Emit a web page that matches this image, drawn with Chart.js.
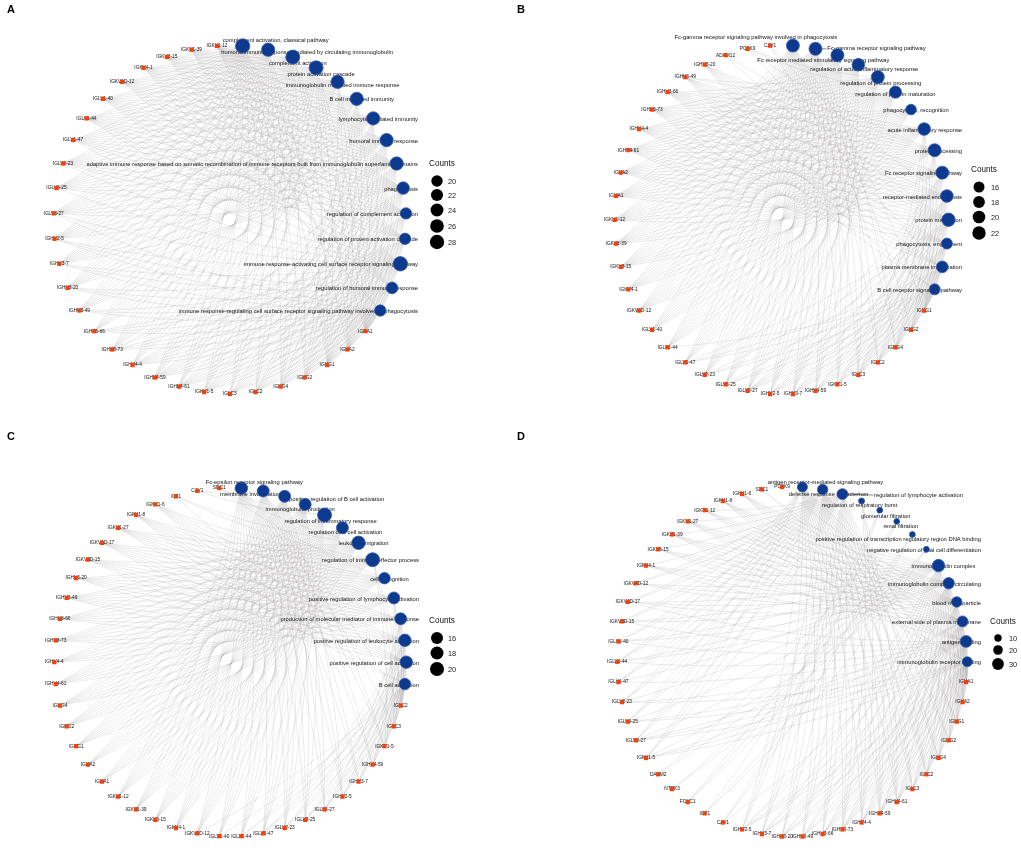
<!DOCTYPE html>
<html>
<head>
<meta charset="utf-8">
<script src="https://cdn.jsdelivr.net/npm/chart.js@4.4.0/dist/chart.umd.min.js"></script>
<style>
html, body { margin: 0; padding: 0; background: #fff; }
#wrap { position: relative; width: 1021px; height: 854px; }
.panel { position: absolute; }
</style>
</head>
<body>
<div id="wrap">
  <div class="panel" style="left:0;top:0"><canvas id="cA" width="510" height="427"></canvas></div>
  <div class="panel" style="left:510px;top:0"><canvas id="cB" width="511" height="427"></canvas></div>
  <div class="panel" style="left:0;top:427px"><canvas id="cC" width="510" height="427"></canvas></div>
  <div class="panel" style="left:510px;top:427px"><canvas id="cD" width="511" height="427"></canvas></div>
</div>
<script>
// ---- data ----
// terms clockwise from the top, genes clockwise after the last term
const termsA = ['complement activation, classical pathway',
  'humoral immune response mediated by circulating immunoglobulin',
  'complement activation', 'protein activation cascade',
  'immunoglobulin mediated immune response', 'B cell mediated immunity',
  'lymphocyte mediated immunity', 'humoral immune response',
  'adaptive immune response based on somatic recombination of immune receptors built from immunoglobulin superfamily domains',
  'phagocytosis', 'regulation of complement activation',
  'regulation of protein activation cascade',
  'immune response-activating cell surface receptor signaling pathway',
  'regulation of humoral immune response',
  'immune response-regulating cell surface receptor signaling pathway involved in phagocytosis'];
const countsA = [28, 25, 27, 27, 25, 25, 25, 25, 25, 23, 20, 20, 28, 21, 20];
const genesA = ['IGHA1', 'IGHA2', 'IGHG1', 'IGHG2', 'IGHG4', 'IGLC2', 'IGLC3', 'IGKV1-5',
  'IGHV4-61', 'IGHV4-59', 'IGHV4-4', 'IGHV3-73', 'IGHV3-66', 'IGHV3-49', 'IGHV3-20',
  'IGHV3-7', 'IGHV2-5', 'IGLV3-27', 'IGLV3-25', 'IGLV2-23', 'IGLV1-47', 'IGLV1-44',
  'IGLV1-40', 'IGKV1D-12', 'IGKV4-1', 'IGKV3-15', 'IGKV1-39', 'IGKV1-12'];
const linksA = {};
const legendA = [20, 22, 24, 26, 28];

const termsB = ['Fc-gamma receptor signaling pathway involved in phagocytosis',
  'Fc-gamma receptor signaling pathway', 'Fc receptor mediated stimulatory signaling pathway',
  'regulation of acute inflammatory response', 'regulation of protein processing',
  'regulation of protein maturation', 'phagocytosis, recognition', 'acute inflammatory response',
  'protein processing', 'Fc receptor signaling pathway', 'receptor-mediated endocytosis',
  'protein maturation', 'phagocytosis, engulfment', 'plasma membrane invagination',
  'B cell receptor signaling pathway'];
const countsB = [21, 21, 21, 20, 21, 19, 15, 20, 21, 21, 20, 22, 16, 18, 16];
const genesB = ['IGHG1', 'IGHG2', 'IGHG4', 'IGLC2', 'IGLC3', 'IGKV1-5', 'IGHV4-59', 'IGHV3-7',
  'IGHV2-5', 'IGLV3-27', 'IGLV3-25', 'IGLV2-23', 'IGLV1-47', 'IGLV1-44', 'IGLV1-40',
  'IGKV1D-12', 'IGKV4-1', 'IGKV3-15', 'IGKV1-39', 'IGKV1-12', 'IGHA1', 'IGHA2', 'IGHV4-61',
  'IGHV4-4', 'IGHV3-73', 'IGHV3-66', 'IGHV3-49', 'IGHV3-20', 'ADAM12', 'PCSK9', 'CAV1'];
const linksB = { ADAM12: [8, 11], PCSK9: [4, 5, 8, 11], CAV1: [10, 13] };
const legendB = [16, 18, 20, 22];

const termsC = ['Fc-epsilon receptor signaling pathway', 'membrane invagination',
  'positive regulation of B cell activation', 'immunoglobulin production',
  'regulation of inflammatory response', 'regulation of B cell activation',
  'leukocyte migration', 'regulation of immune effector process', 'cell recognition',
  'positive regulation of lymphocyte activation',
  'production of molecular mediator of immune response',
  'positive regulation of leukocyte activation', 'positive regulation of cell activation',
  'B cell activation'];
const countsC = [17, 16, 16, 16, 20, 16, 19, 20, 15, 16, 16, 17, 17, 15];
const genesC = ['IGLC2', 'IGLC3', 'IGKV1-5', 'IGHV4-59', 'IGHV3-7', 'IGHV2-5', 'IGLV3-27',
  'IGLV3-25', 'IGLV2-23', 'IGLV1-47', 'IGLV1-44', 'IGLV1-40', 'IGKV1D-12', 'IGKV4-1',
  'IGKV3-15', 'IGKV1-39', 'IGKV1-12', 'IGHA1', 'IGHA2', 'IGHG1', 'IGHG2', 'IGHG4',
  'IGHV4-61', 'IGHV4-4', 'IGHV3-73', 'IGHV3-66', 'IGHV3-49', 'IGHV3-20', 'IGKV3D-15',
  'IGKV1D-17', 'IGKV1-27', 'IGKV1-8', 'IGKV1-6', 'IGF1', 'CAV1', 'SDC1'];
const linksC = { IGF1: [6, 7, 12], CAV1: [1, 4], SDC1: [4, 6, 8] };
const legendC = [16, 18, 20];

const termsD = ['antigen receptor-mediated signaling pathway', 'defense response to bacterium',
  'regulation of lymphocyte activation', 'regulation of respiratory burst',
  'glomerular filtration', 'renal filtration',
  'positive regulation of transcription regulatory region DNA binding',
  'negative regulation of glial cell differentiation', 'immunoglobulin complex',
  'immunoglobulin complex, circulating', 'blood microparticle',
  'external side of plasma membrane', 'antigen binding', 'immunoglobulin receptor binding'];
const countsD = [22, 24, 26, 4, 3, 3, 3, 3, 33, 28, 24, 26, 30, 22];
const genesD = ['IGHA1', 'IGHA2', 'IGHG1', 'IGHG2', 'IGHG4', 'IGLC2', 'IGLC3', 'IGHV4-61',
  'IGHV4-59', 'IGHV4-4', 'IGHV3-73', 'IGHV3-66', 'IGHV3-49', 'IGHV3-20', 'IGHV3-7',
  'IGHV2-5', 'CAV1', 'IGF1', 'FOXC1', 'NTRK3', 'DAAM2', 'IGKV1-5', 'IGLV3-27', 'IGLV3-25',
  'IGLV2-23', 'IGLV1-47', 'IGLV1-44', 'IGLV1-40', 'IGKV3D-15', 'IGKV1D-17', 'IGKV1D-12',
  'IGKV4-1', 'IGKV3-15', 'IGKV1-39', 'IGKV1-27', 'IGKV1-12', 'IGKV1-8', 'IGKV1-6',
  'SDC1', 'PCSK9'];
const linksD = { CAV1: [4, 5, 10], IGF1: [4, 6, 7], FOXC1: [4, 5, 6], NTRK3: [6, 7],
  DAAM2: [5, 7], SDC1: [10, 11], PCSK9: [10] };
const legendD = [10, 20, 30];

// ---- layout (circle geometry, label nudges, legend placement) ----
const panels = [
  { id: 'cA', letter: 'A', terms: termsA, counts: countsA, genes: genesA, links: linksA, legend: legendA,
    cx: 229, cy: 220, rx: 182, ry: 181, right: 418, size: [20, 5.7, 28, 7.2],
    nudge: { 0: [33, -6], 1: [39, 3], 2: [5, 6], 3: [5, 7], 4: [5, 4] },
    leg: { tx: 429, ty: 164, cx: 437, ys: [181, 195, 210, 226, 242], lx: 448 } },
  { id: 'cB', letter: 'B', terms: termsB, counts: countsB, genes: genesB, links: linksB, legend: legendB,
    cx: 272, cy: 220, rx: 172, ry: 181, right: 452, size: [16, 5.5, 22, 6.7],
    nudge: { 0: [-37, -8], 1: [61, 0], 2: [-14, 5], 3: [6, 5], 4: [3, 6], 5: [0, 2] },
    leg: { tx: 461, ty: 170, cx: 469, ys: [187, 202, 217, 233], lx: 481 } },
  { id: 'cC', letter: 'C', terms: termsC, counts: countsC, genes: genesC, links: linksC, legend: legendC,
    cx: 229.5, cy: 236, rx: 181.5, ry: 181, right: 419, size: [16, 6.0, 20, 7.0],
    nudge: { 0: [13, -6], 1: [-13, 4], 2: [52, 3], 3: [-5, 5], 4: [6, 6], 5: [3, 5] },
    leg: { tx: 429, ty: 194, cx: 437, ys: [211, 226, 242], lx: 448 } },
  { id: 'cD', letter: 'D', terms: termsD, counts: countsD, genes: genesD, links: linksD, legend: legendD,
    cx: 283, cy: 235.5, rx: 180, ry: 181, right: 471, size: [10, 3.7, 30, 5.9],
    nudge: { 0: [23, -5], 1: [6, 5], 2: [76, 1], 3: [-2, 4], 4: [6, 6], 5: [4, 5], 6: [5, 5] },
    leg: { tx: 480, ty: 195, cx: 488, ys: [211, 223, 237], lx: 499 } }
];

const SEG = 10;
const BEND = 0.07;
const FONT = '"Liberation Sans", Arial, sans-serif';
const store = {};

function rad(cfg, c) {
  const s = cfg.size;
  return s[1] + (c - s[0]) * (s[3] - s[1]) / (s[2] - s[0]);
}

function build(cfg) {
  const nT = cfg.terms.length, nG = cfg.genes.length, N = nT + nG;
  const step = 2 * Math.PI / N;
  const pos = i => {
    const a = (i + 0.5) * step;
    return { x: cfg.cx + cfg.rx * Math.sin(a), y: cfg.cy - cfg.ry * Math.cos(a) };
  };
  const termPts = cfg.terms.map((name, i) => Object.assign(pos(i), { name }));
  const genePts = cfg.genes.map((name, j) => Object.assign(pos(nT + j), { name }));

  // gene-term links: named genes from the links table, immunoglobulin genes fill the rest
  const ig = [];
  cfg.genes.forEach((g, j) => { if (!(g in cfg.links)) ig.push(j); });
  const edges = [];
  cfg.terms.forEach((t, ti) => {
    const extra = Object.keys(cfg.links).filter(g => cfg.links[g].includes(ti));
    extra.forEach(g => edges.push([cfg.genes.indexOf(g), ti]));
    const k = Math.max(0, Math.min(ig.length, cfg.counts[ti] - extra.length));
    const start = Math.round(ti * ig.length / nT);
    for (let m = 0; m < k; m++) edges.push([ig[(start + m) % ig.length], ti]);
  });

  const edgePts = [];
  edges.forEach(([g, t]) => {
    const p0 = genePts[g], p2 = termPts[t];
    const dx = p2.x - p0.x, dy = p2.y - p0.y;
    const c = { x: (p0.x + p2.x) / 2 - BEND * dy, y: (p0.y + p2.y) / 2 + BEND * dx };
    for (let s = 0; s <= SEG; s++) {
      const u = s / SEG, v = 1 - u;
      edgePts.push({ x: v * v * p0.x + 2 * v * u * c.x + u * u * p2.x,
                     y: v * v * p0.y + 2 * v * u * c.y + u * u * p2.y });
    }
    edgePts.push({ x: null, y: null });
  });
  return { termPts, genePts, edgePts };
}

const netPlugin = {
  id: 'net',
  afterDatasetDraw(chart, args) {
    if (args.index !== 2) return;
    const st = store[chart.canvas.id];
    const cfg = st.cfg;
    const ctx = chart.ctx, xs = chart.scales.x, ys = chart.scales.y;
    ctx.save();
    ctx.fillStyle = '#111';
    ctx.textBaseline = 'middle';
    ctx.textAlign = 'center';
    ctx.font = '4.8px ' + FONT;
    st.genePts.forEach(p => ctx.fillText(p.name, xs.getPixelForValue(p.x), ys.getPixelForValue(p.y)));
    ctx.font = '5.8px ' + FONT;
    st.termPts.forEach((p, i) => {
      const px = xs.getPixelForValue(p.x), py = ys.getPixelForValue(p.y);
      const w = ctx.measureText(p.name).width;
      const nd = cfg.nudge[i] || [5, 1];
      let lx = px + nd[0];
      if (lx + w / 2 > cfg.right) lx = cfg.right - w / 2;
      const ly = py + nd[1];
      const r = rad(cfg, cfg.counts[i]);
      if (lx - w / 2 > px + r + 3 && Math.abs(ly - py) < 4) {
        ctx.strokeStyle = '#333';
        ctx.lineWidth = 0.6;
        ctx.beginPath();
        ctx.moveTo(px + r, py);
        ctx.lineTo(lx - w / 2 - 1, ly);
        ctx.stroke();
      }
      ctx.fillText(p.name, lx, ly);
    });
    ctx.restore();
  },
  afterDraw(chart) {
    const cfg = store[chart.canvas.id].cfg;
    const ctx = chart.ctx, L = cfg.leg;
    ctx.save();
    ctx.fillStyle = '#111';
    ctx.textBaseline = 'middle';
    ctx.textAlign = 'left';
    ctx.font = '8.2px ' + FONT;
    ctx.fillText('Counts', L.tx, L.ty);
    ctx.font = '7.4px ' + FONT;
    cfg.legend.forEach((v, i) => {
      ctx.beginPath();
      ctx.arc(L.cx, L.ys[i], rad(cfg, v), 0, 2 * Math.PI);
      ctx.fillStyle = '#000';
      ctx.fill();
      ctx.fillStyle = '#222';
      ctx.fillText(String(v), L.lx, L.ys[i] + 0.5);
    });
    ctx.fillStyle = '#000';
    ctx.font = 'bold 11px ' + FONT;
    ctx.fillText(cfg.letter, 7, 10);
    ctx.restore();
  }
};

panels.forEach(cfg => {
  const canvas = document.getElementById(cfg.id);
  const built = build(cfg);
  store[cfg.id] = Object.assign({ cfg }, built);
  new Chart(canvas, {
    type: 'scatter',
    data: {
      datasets: [
        { data: built.termPts, order: 0, pointStyle: 'circle',
          pointRadius: cfg.counts.map(c => rad(cfg, c)),
          backgroundColor: '#0c3a8e', borderColor: '#3559a8', borderWidth: 0.8 },
        { data: built.genePts, order: 1, pointStyle: 'rect', pointRadius: 3,
          backgroundColor: '#f0420d', borderWidth: 0 },
        { data: built.edgePts, order: 2, showLine: true, spanGaps: false, pointRadius: 0,
          borderColor: 'rgba(160,154,154,0.42)', borderWidth: 0.45 }
      ]
    },
    options: {
      responsive: false,
      animation: false,
      events: [],
      layout: { padding: 0 },
      scales: {
        x: { type: 'linear', min: 0, max: canvas.width, display: false },
        y: { type: 'linear', min: 0, max: canvas.height, reverse: true, display: false }
      },
      plugins: { legend: { display: false }, tooltip: { enabled: false } }
    },
    plugins: [netPlugin]
  });
});
</script>
</body>
</html>
